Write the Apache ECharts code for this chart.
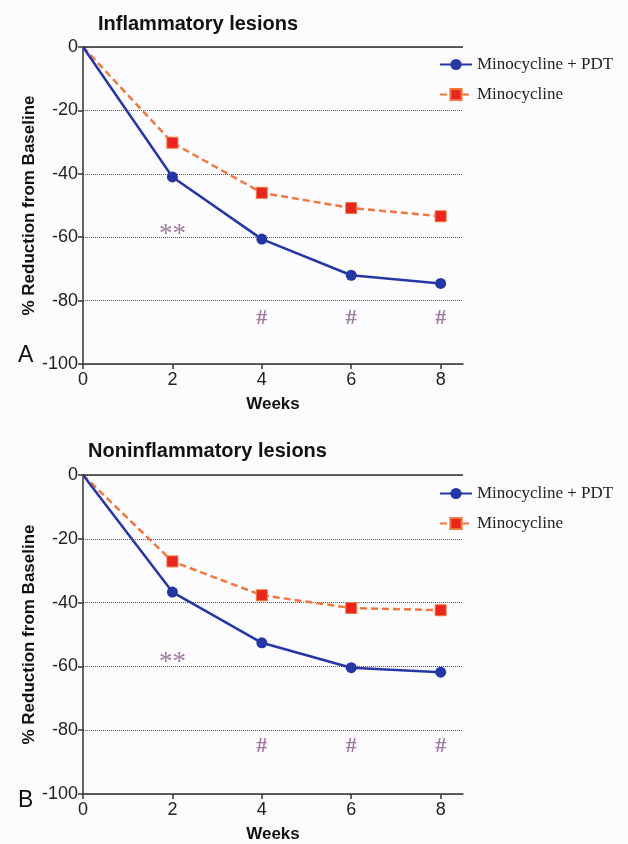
<!DOCTYPE html>
<html>
<head>
<meta charset="utf-8">
<script src="https://cdn.jsdelivr.net/npm/echarts@6/dist/echarts.min.js"></script>
<style>
  html, body { margin: 0; padding: 0; background: #fcfcfe; }
  #chart { width: 628px; height: 844px; }
</style>
</head>
<body>
<div id="chart"></div>
<script>
// weeks on the x axis
const weeks = [0, 2, 4, 6, 8];

// panel A - inflammatory lesions
const inflamPdt = [0, -41, -60.6, -72, -74.6];
const inflamMino = [0, -30.2, -46, -50.8, -53.4];

// panel B - noninflammatory lesions
const noninflamPdt = [0, -36.7, -52.6, -60.4, -61.8];
const noninflamMino = [0, -27.1, -37.7, -41.7, -42.4];

// significance marks
const markWeeks = [2, 4, 6, 8];
const markTexts = ['**', '#', '#', '#'];
const markYA = [-57.6, -85.7, -85.7, -85.7];
const markYB = [-57.2, -85, -85, -85];

const panelTitles = ['Inflammatory lesions', 'Noninflammatory lesions'];
const panelLetters = ['A', 'B'];
const seriesNames = ['Minocycline + PDT', 'Minocycline'];

const blue = '#2536a6';
const orange = '#f2773f';
const red = '#e8261e';
const markColor = '#8a5686';
const sans = 'Liberation Sans, Arial, sans-serif';
const serif = 'Liberation Serif, Times New Roman, serif';

const chart = echarts.init(document.getElementById('chart'));

const pairs = (xs, ys) => xs.map((x, i) => {
  const item = { value: [x, ys[i]] };
  if (i === 0) item.symbol = 'none';
  return item;
});

const grids = [
  { left: 83, top: 47, width: 380, height: 317 },
  { left: 83, top: 475, width: 380, height: 320 }
];

const axisText = { color: '#222', fontSize: 18, fontFamily: sans };
const nameText = { fontSize: 17, fontWeight: 'bold', color: '#111', fontFamily: sans };

const xAxes = grids.map((g, i) => ({
  type: 'value',
  gridIndex: i,
  min: 0,
  max: 8.5,
  interval: 2,
  name: 'Weeks',
  nameLocation: 'middle',
  nameGap: 32,
  nameMoveOverlap: false,
  nameTextStyle: nameText,
  axisLine: { onZero: false, lineStyle: { color: '#333', width: 1.5 } },
  axisTick: { length: 5, lineStyle: { color: '#333', width: 1.5 } },
  axisLabel: Object.assign({ margin: 7, showMaxLabel: false }, axisText),
  splitLine: { show: false }
}));

const yAxes = grids.map((g, i) => ({
  type: 'value',
  gridIndex: i,
  min: -100,
  max: 0,
  interval: 20,
  name: '% Reduction from Baseline',
  nameLocation: 'middle',
  nameGap: 45,
  nameMoveOverlap: false,
  nameTextStyle: nameText,
  axisLine: { onZero: false, lineStyle: { color: '#333', width: 1.5 } },
  axisTick: { length: 5, lineStyle: { color: '#333', width: 1.5 } },
  axisLabel: Object.assign({ margin: 5 }, axisText),
  splitLine: { show: true, lineStyle: { color: '#555', type: [1, 1], width: 1 } }
}));

const panels = [
  { pdt: inflamPdt, mino: inflamMino, markY: markYA },
  { pdt: noninflamPdt, mino: noninflamMino, markY: markYB }
];

const markLabel = (text) => text === '**'
  ? { fontSize: 27, fontWeight: 'normal', offset: [0, 5] }
  : { fontSize: 22, fontWeight: 'bold', offset: [0, 0] };

const series = [];
panels.forEach((p, i) => {
  series.push({
    name: seriesNames[0],
    type: 'line',
    xAxisIndex: i,
    yAxisIndex: i,
    data: pairs(weeks, p.pdt),
    symbol: 'circle',
    symbolSize: 11,
    itemStyle: { color: blue },
    lineStyle: { color: blue, width: 2.5 },
    z: 3,
    markLine: {
      silent: true,
      symbol: 'none',
      label: { show: false },
      lineStyle: { color: '#333', type: 'solid', width: 1.5 },
      data: [{ yAxis: 0 }]
    }
  });
  series.push({
    name: seriesNames[1],
    type: 'line',
    xAxisIndex: i,
    yAxisIndex: i,
    data: pairs(weeks, p.mino),
    symbol: 'rect',
    symbolSize: 11,
    itemStyle: { color: red, borderColor: orange, borderWidth: 1 },
    lineStyle: { color: orange, width: 2.5, type: [7, 4] },
    z: 2
  });
  series.push({
    type: 'scatter',
    xAxisIndex: i,
    yAxisIndex: i,
    symbolSize: 0,
    silent: true,
    data: markWeeks.map((w, k) => ({
      value: [w, p.markY[k]],
      name: markTexts[k],
      label: markLabel(markTexts[k])
    })),
    label: {
      show: true,
      position: 'inside',
      formatter: (d) => d.name,
      color: markColor,
      fontFamily: serif
    }
  });
});

const legendText = { fontSize: 17, color: '#222', fontFamily: serif };
const legendBase = {
  data: seriesNames,
  orient: 'vertical',
  left: 434,
  itemWidth: 32,
  itemHeight: 14,
  itemGap: 13,
  textStyle: legendText
};

const titleStyle = { fontSize: 20, fontWeight: 'bold', color: '#111', fontFamily: sans };
const letterStyle = { fontSize: 23, fontWeight: 'normal', color: '#111', fontFamily: sans };

chart.setOption({
  backgroundColor: '#fcfcfe',
  animation: false,
  title: [
    { text: panelTitles[0], left: 93, top: 9, textStyle: titleStyle },
    { text: panelTitles[1], left: 83, top: 436, textStyle: titleStyle },
    { text: panelLetters[0], left: 13, top: 339, textStyle: letterStyle },
    { text: panelLetters[1], left: 13, top: 784, textStyle: letterStyle }
  ],
  legend: [
    Object.assign({ top: 51 }, legendBase),
    Object.assign({ top: 480 }, legendBase)
  ],
  grid: grids,
  xAxis: xAxes,
  yAxis: yAxes,
  series: series
});
</script>
</body>
</html>
